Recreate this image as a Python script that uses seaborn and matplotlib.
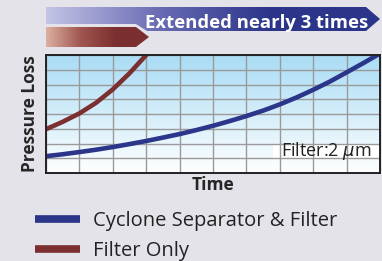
import numpy as np
import matplotlib
matplotlib.use("Agg")
import matplotlib.pyplot as plt
from matplotlib.patches import Polygon, Rectangle
from matplotlib.lines import Line2D
import seaborn as sns
import pandas as pd

# data (x: time grid units, y: pressure loss grid units)
time_pts = [0, 0.5, 1, 1.5, 2, 2.5, 3, 3.5, 4, 4.5, 5, 5.5, 6, 6.5, 7, 7.5, 8, 8.5, 9, 9.5, 10]
cyclone_loss = [1.14, 1.27, 1.42, 1.58, 1.76, 1.96, 2.17, 2.4, 2.64, 2.91, 3.2,
                3.52, 3.86, 4.23, 4.65, 5.12, 5.64, 6.2, 6.82, 7.45, 8.1]
filter_time = [0, 0.5, 1, 1.5, 2, 2.5, 3, 3.3]
filter_loss = [2.97, 3.47, 4.04, 4.76, 5.67, 6.76, 8.0, 8.8]
series_names = ["Cyclone Separator & Filter", "Filter Only"]
banner_text = "Extended nearly 3 times"
note_text = "Filter:2 $\\mu$m"

blue = "#2b3589"
red = "#7b2f30"
bg = "#e3e3e9"

sns.set_style("white")
plt.rcParams["font.family"] = ["Open Sans", "DejaVu Sans"]
plt.rcParams["mathtext.fontset"] = "dejavusans"

df = pd.concat([
    pd.DataFrame({"time": time_pts, "loss": cyclone_loss, "series": series_names[0]}),
    pd.DataFrame({"time": filter_time, "loss": filter_loss, "series": series_names[1]}),
])

fig = plt.figure(figsize=(3.82, 2.61), dpi=100, facecolor=bg)
ax = fig.add_axes([46 / 382, 88 / 261, 334 / 382, 118 / 261])

# light-blue to white gradient behind the grid
grad = np.linspace(0, 1, 256).reshape(-1, 1)
cmap = matplotlib.colors.LinearSegmentedColormap.from_list("sky", ["#ffffff", "#a9dcf5"])
ax.imshow(grad, extent=[0, 10, 0, 8], origin="lower", cmap=cmap, aspect="auto", zorder=0)

sns.lineplot(data=df, x="time", y="loss", hue="series", palette=[blue, red],
             lw=3.3, ax=ax, legend=False, zorder=3, sort=False)

ax.set_xlim(0, 10)
ax.set_ylim(0, 8)
ax.set_xticks(np.arange(0, 11, 1))
ax.set_yticks(np.arange(0, 9, 1))
ax.grid(True, color="#9a9a9a", lw=1.0, zorder=1)
ax.set_axisbelow(False)
ax.tick_params(length=0, labelbottom=False, labelleft=False)
for s in ax.spines.values():
    s.set_color("#222222")
    s.set_linewidth(1.4)
    s.set_zorder(5)
ax.set_xlabel("Time", fontsize=12.5, fontweight="bold", labelpad=2)
ax.set_ylabel("Pressure Loss", fontsize=12.5, fontweight="bold", labelpad=5)

# white patch behind the filter note
ax.add_patch(Rectangle((6.8, 0.98), 3.2, 1.0, fc="white", ec="none", zorder=2))
ax.text(9.75, 1.5, note_text, ha="right", va="center", fontsize=13, color="#222222", zorder=4)

# banner arrows on top
bax = fig.add_axes([0, 0, 1, 1], facecolor="none")
bax.set_xlim(0, 382)
bax.set_ylim(261, 0)
bax.axis("off")

blue_poly = Polygon([(46, 7), (366, 7), (380, 19), (366, 31), (147, 31), (136, 24), (46, 24)],
                    closed=True, fc="none", ec="none")
bax.add_patch(blue_poly)
bgrad = matplotlib.colors.LinearSegmentedColormap.from_list("b", ["#c4c4e6", "#6a6cb4", blue, blue])
im = bax.imshow(np.linspace(0, 1, 256).reshape(1, -1), extent=[46, 382, 31, 7],
                cmap=bgrad, aspect="auto", zorder=2)
im.set_clip_path(blue_poly)

red_poly = Polygon([(46, 27), (136, 27), (149, 37), (136, 47), (46, 47)],
                   closed=True, fc="none", ec="none")
bax.add_patch(red_poly)
rgrad = matplotlib.colors.LinearSegmentedColormap.from_list("r", ["#dcb0a0", "#a05650", red, red])
im2 = bax.imshow(np.linspace(0, 1, 256).reshape(1, -1), extent=[46, 150, 47, 27],
                 cmap=rgrad, aspect="auto", zorder=2)
im2.set_clip_path(red_poly)

bax.text(257, 28, banner_text, ha="center", va="baseline", color="white",
         fontsize=13.3, fontweight="bold", zorder=3)

handles = [Line2D([], [], color=blue, lw=5.5, solid_capstyle="butt"),
           Line2D([], [], color=red, lw=5.5, solid_capstyle="butt")]
fig.legend(handles, series_names, loc="upper left", bbox_to_anchor=(0.092, 0.19),
           frameon=False, fontsize=14.5, handlelength=2.25, handletextpad=0.6,
           labelspacing=0.5, borderpad=0, borderaxespad=0, labelcolor="#222222")

fig.savefig("out.png", dpi=100, facecolor=bg)
